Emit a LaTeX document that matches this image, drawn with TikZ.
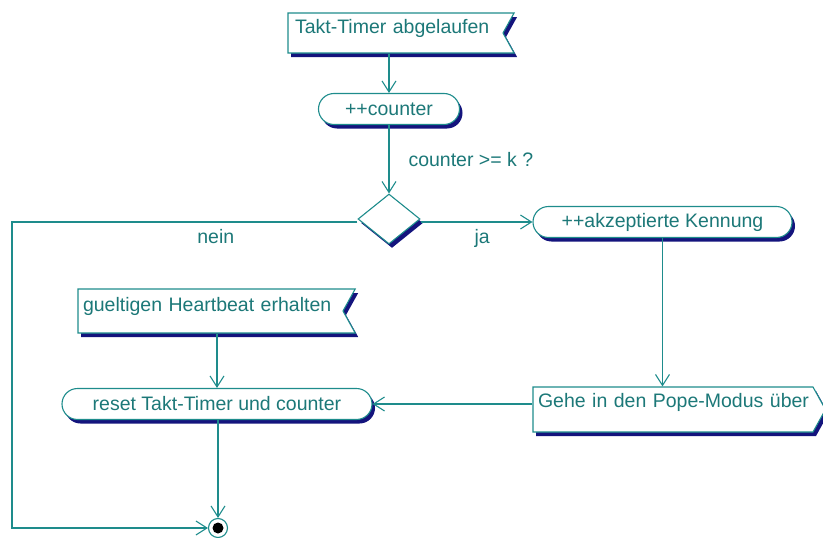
\documentclass[tikz,border=0pt]{standalone}
\usepackage{fontspec}
\setmainfont{Liberation Sans}
\usetikzlibrary{shapes.misc,shapes.symbols,shapes.geometric,shadows,arrows.meta}
\definecolor{flowline}{RGB}{30,140,140}
\definecolor{flowtext}{RGB}{28,120,120}
\definecolor{flowshadow}{RGB}{20,20,125}
\begin{document}
\begin{tikzpicture}[x=1pt,y=-1pt,
  font=\fontsize{19.5}{23}\selectfont,
  every node/.style={text=flowtext},
  base/.style={draw=flowline, line width=1.1pt, fill=white,
    drop shadow={shadow xshift=3pt, shadow yshift=-4pt, fill=flowshadow, opacity=1}},
  actbox/.style={base, rounded rectangle, inner sep=0pt, minimum height=31pt},
  eventbox/.style={base, signal, signal to=nothing, signal from=east,
    signal pointer angle=122, align=left, inner ysep=0pt},
  sendbox/.style={base, signal, signal to=east,
    signal pointer angle=122, align=left, inner ysep=0pt},
  decision/.style={base, diamond, inner sep=0pt, minimum width=62pt, minimum height=50pt},
  finalnode/.style={circle, draw=flowline, line width=1.1pt, fill=white,
    minimum size=19pt, inner sep=0pt,
    path picture={\fill[black] (path picture bounding box.center) circle[radius=5.5pt];}},
  flow/.style={draw=flowline, line width=1.1pt,
    -{Straight Barb[length=11pt,width=14pt]}}
]
\useasboundingbox (0,0) rectangle (823,538);

% activities and events
\node[eventbox, inner xsep=7pt, text width=201pt, text height=20pt, text depth=20pt]
  (takt) at (395.5,33) {\mbox{Takt-Timer abgelaufen}};
\node[actbox, minimum width=141pt] (counter) at (389,109) {++counter};
\node[decision] (dec) at (389,219) {};
\node[anchor=west] (guard) at (405,160) {counter >= k ?};
\node[actbox, minimum width=259pt] (akz) at (662.5,222) {++akzeptierte Kennung};
\node[sendbox, inner xsep=5pt, text width=270pt, text height=20.5pt, text depth=24.5pt]
  (gehe) at (673,409.5) {\mbox{Gehe in den Pope-Modus über}};
\node[eventbox, inner xsep=5pt, text width=255pt, text height=22pt, text depth=22pt]
  (heart) at (210.5,311) {\mbox{gueltigen Heartbeat erhalten}};
\node[actbox, minimum width=310pt] (reset) at (217,404) {reset Takt-Timer und counter};
\node[finalnode] (final) at (218,528) {};
\coordinate (bend) at (12,222);

% control flow
\draw[flow] (takt.south -| counter.north) -- (counter.north);
\draw[flow] (counter.south -| dec.north) -- (dec.north);
\draw[flow] (dec.east |- akz.west) -- node[below=3pt, pos=0.55] (ja) {ja} (akz.west);
\draw[flow] (dec.west |- bend) -- node[below=3pt, pos=0.41] (nein) {nein} (bend) |- (final.west);
\draw[flow] (akz.south) -- (akz.south |- gehe.north);
\draw[flow] (gehe.west |- reset.east) -- (reset.east);
\draw[flow] (heart.south -| reset.north) -- (reset.north);
\draw[flow] (reset.south -| final.north) -- (final.north);
\end{tikzpicture}
\end{document}
